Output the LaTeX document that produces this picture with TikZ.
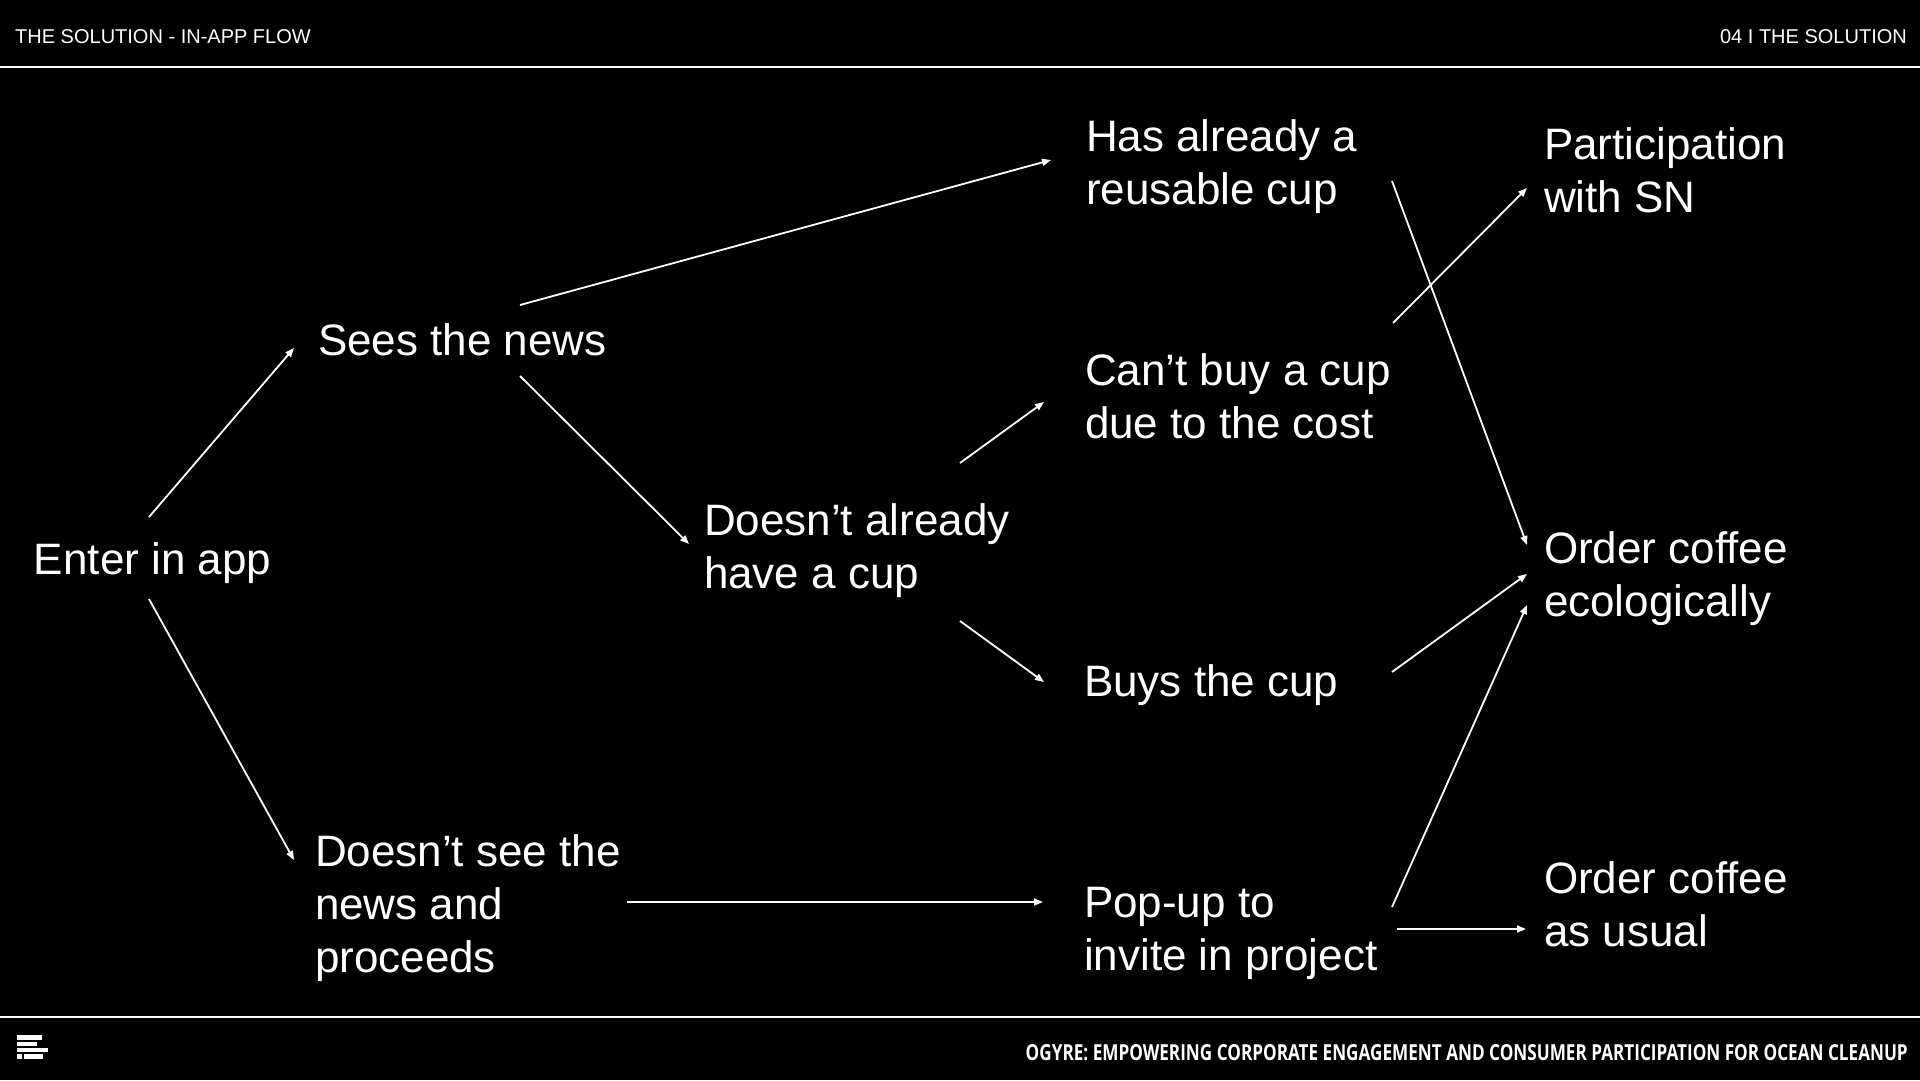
\documentclass[tikz,border=0pt]{standalone}
\usepackage{fontspec}
\setmainfont{Liberation Sans}
\newfontfamily\footfont{Open Sans}
\usetikzlibrary{arrows.meta}
\begin{document}
\begin{tikzpicture}[x=1pt,y=-1pt,
  lbl/.style={anchor=base west,inner sep=0pt,outer sep=0pt,align=left,text=white,font=\fontsize{44}{53}\selectfont},
  hdr/.style={inner sep=0pt,text=white,font=\fontsize{20}{24}\selectfont},
  flow/.style={draw=white,line width=1.8pt,-{Triangle[length=9pt,width=7pt]}},
  rule/.style={draw=white,line width=2pt},
  bar/.style={fill=white}]
\fill[black] (0,0) rectangle (1920,1080);
\useasboundingbox (0,0) rectangle (1920,1080);
% header
\node[hdr,anchor=base west] (title) at (15,43) {THE SOLUTION - IN-APP FLOW};
\node[hdr,anchor=base east] (section) at (1907,43) {04 I THE SOLUTION};
\draw[rule] (0,67) -- (1920,67);
% footer
\draw[rule] (0,1017) -- (1920,1017);
\node[anchor=base east,inner sep=0pt,text=white] (foot) at (1908,1060)
  {\resizebox{882pt}{16pt}{\footfont\bfseries OGYRE: EMPOWERING CORPORATE ENGAGEMENT AND CONSUMER PARTICIPATION FOR OCEAN CLEANUP}};
\fill[bar] (17,1035) rectangle (42,1040);
\fill[bar] (17,1042) rectangle (37,1046);
\fill[bar] (17,1048) rectangle (48,1052);
\fill[bar] (17,1054) rectangle (22,1059);
\fill[bar] (24,1054) rectangle (43,1059);
% labels (base = baseline of the last line)
\node[lbl] (enter) at (34,574) {Enter in app};
\node[lbl] (sees) at (318,355) {Sees the news};
\node[lbl] (nosee) at (315,972) {Doesn’t see the\\news and\\proceeds};
\node[lbl] (nocup) at (704,588) {Doesn’t already\\have a cup};
\node[lbl] (hascup) at (1086,204) {Has already a\\reusable cup};
\node[lbl] (cant) at (1085,438) {Can’t buy a cup\\due to the cost};
\node[lbl] (buys) at (1084,696) {Buys the cup};
\node[lbl] (popup) at (1084,970) {Pop-up to\\invite in project};
\node[lbl] (sn) at (1544,212) {Participation\\with SN};
\node[lbl] (eco) at (1544,616) {Order coffee\\ecologically};
\node[lbl] (usual) at (1544,946) {Order coffee\\as usual};
% connector end points
\coordinate (e1) at (149,517); \coordinate (s1) at (294,348);
\coordinate (e2) at (149,599); \coordinate (n1) at (294,860);
\coordinate (s2) at (520,305); \coordinate (h1) at (1051,160);
\coordinate (s3) at (520,376); \coordinate (c1) at (689,544);
\coordinate (c2) at (960,463); \coordinate (k1) at (1044,402);
\coordinate (c3) at (960,621); \coordinate (b1) at (1044,682);
\coordinate (n2) at (627,902); \coordinate (p1) at (1043,902);
\coordinate (h2) at (1392,181); \coordinate (o1) at (1527,545);
\coordinate (k2) at (1393,323); \coordinate (w1) at (1527,188);
\coordinate (b2) at (1392,672); \coordinate (o2) at (1527,574);
\coordinate (p2) at (1392,907); \coordinate (o3) at (1527,605);
\coordinate (p3) at (1397,929); \coordinate (u1) at (1526,929);
\draw[flow] (e1) -- (s1);
\draw[flow] (e2) -- (n1);
\draw[flow] (s2) -- (h1);
\draw[flow] (s3) -- (c1);
\draw[flow] (c2) -- (k1);
\draw[flow] (c3) -- (b1);
\draw[flow] (n2) -- (p1);
\draw[flow] (h2) -- (o1);
\draw[flow] (k2) -- (w1);
\draw[flow] (b2) -- (o2);
\draw[flow] (p2) -- (o3);
\draw[flow] (p3) -- (u1);
\end{tikzpicture}
\end{document}
